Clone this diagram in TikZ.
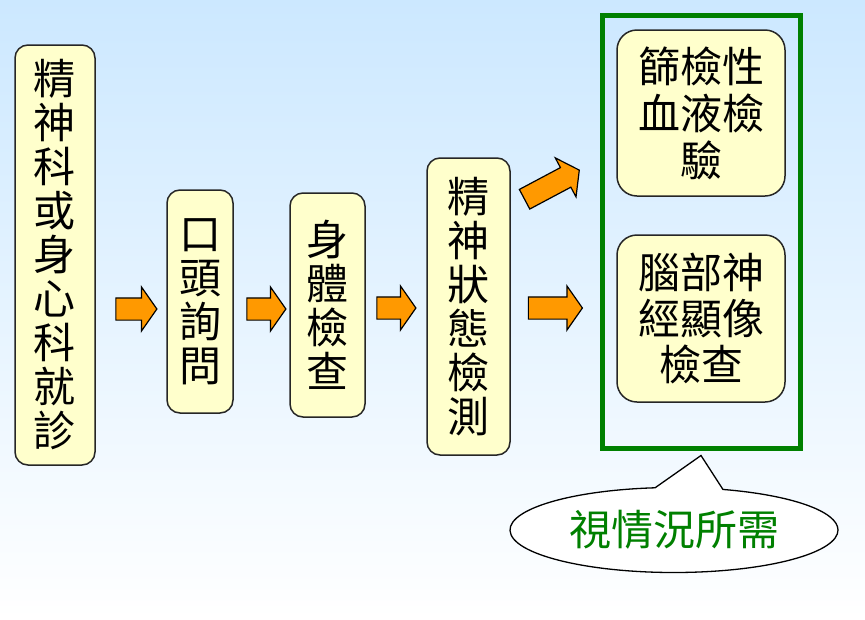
\documentclass[tikz,border=0pt]{standalone}
\usepackage{fontspec}
\setmainfont{Noto Sans CJK TC}
\usetikzlibrary{shapes.arrows,shapes.callouts}
\definecolor{boxfill}{RGB}{255,255,204}
\definecolor{bgtop}{RGB}{204,232,255}
\definecolor{arrfill}{RGB}{255,153,0}
\definecolor{fencegreen}{RGB}{0,128,0}
\tikzset{
  stepbox/.style={draw=black!85,line width=1.5pt,fill=boxfill,rounded corners=13pt,
    align=center,inner sep=0pt,font=\fontsize{42}{44}\selectfont},
  testbox/.style={stepbox,rounded corners=20pt,minimum width=168pt},
  flowarrow/.style={single arrow,draw=black,line width=1.2pt,fill=arrfill,
    single arrow head extend=11pt,single arrow tip angle=110,
    inner xsep=0pt,inner ysep=10.5pt},
}

\begin{document}
\begin{tikzpicture}[x=1pt,y=-1pt]
  \useasboundingbox (0,0) rectangle (865,619);
  \shade[top color=bgtop,bottom color=white] (0,0) rectangle (865,619);

  % the steps
  \node[stepbox,minimum width=80pt,minimum height=420pt] (visit) at (55,255)
    {精\\神\\科\\或\\身\\心\\科\\就\\診};
  \node[stepbox,minimum width=66pt,minimum height=223pt] (talk) at (200,301.5)
    {口\\頭\\詢\\問};
  \node[stepbox,minimum width=75pt,minimum height=224pt] (body) at (327.5,305)
    {身\\體\\檢\\查};
  \node[stepbox,minimum width=83pt,minimum height=297pt] (mental) at (468.5,306.5)
    {精\\神\\狀\\態\\檢\\測};

  % optional tests
  \node[draw=fencegreen,line width=5pt,minimum width=198pt,minimum height=433pt,inner sep=0pt]
    (fence) at (701,231.5) {};
  \node[testbox,minimum height=166pt,font=\fontsize{42}{47}\selectfont] (blood) at (701,113)
    {篩檢性\\血液檢\\驗};
  \node[testbox,minimum height=167pt,font=\fontsize{42}{46}\selectfont] (brain) at (701,318.5)
    {腦部神\\經顯像\\檢查};

  % block arrows
  \node[flowarrow,minimum height=41pt] (a1) at (132.5,309) {};
  \node[flowarrow,minimum height=39pt] (a2) at (262.5,309) {};
  \node[flowarrow,minimum height=39pt] (a3) at (392.5,308) {};
  \node[flowarrow,minimum height=54pt] (a4) at (551.5,308) {};
  \node[flowarrow,minimum height=62pt,rotate=28] (a5) at (548.5,186.5) {};

  % callout
  \coordinate (tip) at ([yshift=-5pt]fence.south);
  \node[ellipse callout,draw=black,line width=1.3pt,fill=white,
    minimum width=328pt,minimum height=85pt,inner sep=0pt,
    callout absolute pointer={(tip)},callout pointer arc=24,
    text=fencegreen,font=\fontsize{42}{44}\selectfont] (note) at (674,530) {視情況所需};
\end{tikzpicture}
\end{document}
